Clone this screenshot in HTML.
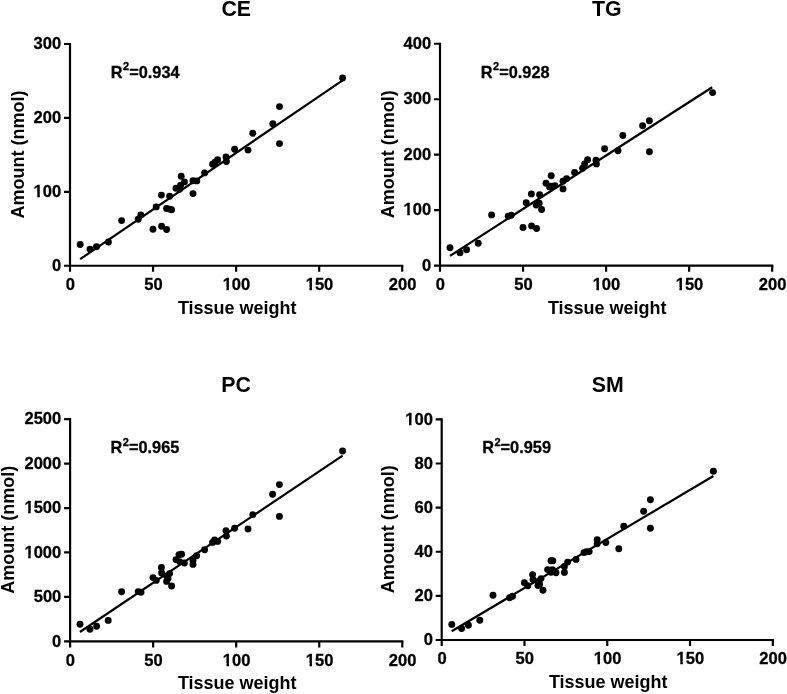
<!DOCTYPE html>
<html lang="en"><head><meta charset="utf-8"><title>Lipid amount vs tissue weight</title>
<style>html,body{margin:0;padding:0;background:#fff}svg{display:block}</style></head>
<body>
<svg width="787" height="694" viewBox="0 0 787 694" font-family='"Liberation Sans", Arial, Helvetica, sans-serif' font-weight="bold" fill="#000">
<style>text{stroke:#000;stroke-width:0.3px;stroke-linejoin:round}text.ax{stroke:none}</style>
<rect width="787" height="694" fill="#fff"/>
<g id="CE">
<path d="M70.00 42.90V265.75H403.30" fill="none" stroke="#000" stroke-width="2.2" stroke-linejoin="miter"/>
<g transform="translate(61.20 271.00) scale(0.975 1)"><text font-size="17" text-anchor="end">0</text></g>
<g transform="translate(61.20 197.08) scale(0.975 1)"><text font-size="17" text-anchor="end">100</text><rect x="-28.49" y="-2.5" width="3.95" height="3.9" fill="#fff"/><rect x="-21.91" y="-2.5" width="3.53" height="3.9" fill="#fff"/></g>
<g transform="translate(61.20 123.17) scale(0.975 1)"><text font-size="17" text-anchor="end">200</text></g>
<g transform="translate(61.20 49.25) scale(0.975 1)"><text font-size="17" text-anchor="end">300</text></g>
<g transform="translate(70.35 289.75) scale(0.975 1)"><text font-size="17" text-anchor="middle">0</text></g>
<g transform="translate(153.40 289.75) scale(0.975 1)"><text font-size="17" text-anchor="middle">50</text></g>
<g transform="translate(236.45 289.75) scale(0.975 1)"><text font-size="17" text-anchor="middle">100</text><rect x="-14.31" y="-2.5" width="3.95" height="3.9" fill="#fff"/><rect x="-7.73" y="-2.5" width="3.53" height="3.9" fill="#fff"/></g>
<g transform="translate(319.50 289.75) scale(0.975 1)"><text font-size="17" text-anchor="middle">150</text><rect x="-14.31" y="-2.5" width="3.95" height="3.9" fill="#fff"/><rect x="-7.73" y="-2.5" width="3.53" height="3.9" fill="#fff"/></g>
<g transform="translate(402.55 289.75) scale(0.975 1)"><text font-size="17" text-anchor="middle">200</text></g>
<path d="M64.00 265.75H70.00M64.00 191.83H70.00M64.00 117.92H70.00M64.00 44.00H70.00M70.00 265.75V271.85M153.05 265.75V271.85M236.10 265.75V271.85M319.15 265.75V271.85M402.20 265.75V271.85" fill="none" stroke="#000" stroke-width="2.2"/>
<text x="236.2" y="16.4" class="ax" font-size="21.3" text-anchor="middle">CE</text>
<text x="237.25" y="313.5" class="ax" font-size="18" text-anchor="middle">Tissue weight</text>
<text transform="translate(23.75 154.47) rotate(-90)" class="ax" font-size="18" text-anchor="middle">Amount (nmol)</text>
<text transform="translate(110.8 77.6) scale(0.962 1)" font-size="17">R<tspan dx="0.4" dy="-7.3" font-size="11.5">2</tspan><tspan dy="7.3">=0.934</tspan></text>
<line x1="80.2" y1="259.10" x2="342.6" y2="80.30" stroke="#000" stroke-width="2.2"/>
<circle cx="80.2" cy="244.50" r="3.45"/>
<circle cx="90" cy="249.10" r="3.45"/>
<circle cx="96.5" cy="246.80" r="3.45"/>
<circle cx="108.4" cy="242.00" r="3.45"/>
<circle cx="121.6" cy="220.60" r="3.45"/>
<circle cx="138.2" cy="219.30" r="3.45"/>
<circle cx="140.8" cy="214.90" r="3.45"/>
<circle cx="153" cy="229.30" r="3.45"/>
<circle cx="156.2" cy="206.90" r="3.45"/>
<circle cx="161.4" cy="195.10" r="3.45"/>
<circle cx="161.6" cy="226.30" r="3.45"/>
<circle cx="166.6" cy="229.50" r="3.45"/>
<circle cx="166.6" cy="208.50" r="3.45"/>
<circle cx="169.6" cy="209.10" r="3.45"/>
<circle cx="171.6" cy="209.70" r="3.45"/>
<circle cx="169.6" cy="196.30" r="3.45"/>
<circle cx="176" cy="188.30" r="3.45"/>
<circle cx="179.6" cy="189.30" r="3.45"/>
<circle cx="181.2" cy="176.30" r="3.45"/>
<circle cx="180.6" cy="185.30" r="3.45"/>
<circle cx="184.4" cy="181.90" r="3.45"/>
<circle cx="193" cy="193.60" r="3.45"/>
<circle cx="193" cy="180.80" r="3.45"/>
<circle cx="196.8" cy="180.90" r="3.45"/>
<circle cx="204.6" cy="172.90" r="3.45"/>
<circle cx="212.6" cy="164.30" r="3.45"/>
<circle cx="215" cy="162.30" r="3.45"/>
<circle cx="217.6" cy="159.70" r="3.45"/>
<circle cx="226" cy="156.90" r="3.45"/>
<circle cx="226.4" cy="161.50" r="3.45"/>
<circle cx="234.6" cy="149.30" r="3.45"/>
<circle cx="248" cy="150.10" r="3.45"/>
<circle cx="252.8" cy="133.30" r="3.45"/>
<circle cx="272.8" cy="123.70" r="3.45"/>
<circle cx="279.5" cy="106.60" r="3.45"/>
<circle cx="279.5" cy="143.60" r="3.45"/>
<circle cx="342.6" cy="77.90" r="3.45"/>
</g>
<g id="TG">
<path d="M440.00 42.65V265.70H773.30" fill="none" stroke="#000" stroke-width="2.2" stroke-linejoin="miter"/>
<g transform="translate(431.20 270.95) scale(0.975 1)"><text font-size="17" text-anchor="end">0</text></g>
<g transform="translate(431.20 215.46) scale(0.975 1)"><text font-size="17" text-anchor="end">100</text><rect x="-28.49" y="-2.5" width="3.95" height="3.9" fill="#fff"/><rect x="-21.91" y="-2.5" width="3.53" height="3.9" fill="#fff"/></g>
<g transform="translate(431.20 159.97) scale(0.975 1)"><text font-size="17" text-anchor="end">200</text></g>
<g transform="translate(431.20 104.49) scale(0.975 1)"><text font-size="17" text-anchor="end">300</text></g>
<g transform="translate(431.20 49.00) scale(0.975 1)"><text font-size="17" text-anchor="end">400</text></g>
<g transform="translate(440.35 289.70) scale(0.975 1)"><text font-size="17" text-anchor="middle">0</text></g>
<g transform="translate(523.40 289.70) scale(0.975 1)"><text font-size="17" text-anchor="middle">50</text></g>
<g transform="translate(606.45 289.70) scale(0.975 1)"><text font-size="17" text-anchor="middle">100</text><rect x="-14.31" y="-2.5" width="3.95" height="3.9" fill="#fff"/><rect x="-7.73" y="-2.5" width="3.53" height="3.9" fill="#fff"/></g>
<g transform="translate(689.50 289.70) scale(0.975 1)"><text font-size="17" text-anchor="middle">150</text><rect x="-14.31" y="-2.5" width="3.95" height="3.9" fill="#fff"/><rect x="-7.73" y="-2.5" width="3.53" height="3.9" fill="#fff"/></g>
<g transform="translate(772.55 289.70) scale(0.975 1)"><text font-size="17" text-anchor="middle">200</text></g>
<path d="M434.00 265.70H440.00M434.00 210.21H440.00M434.00 154.72H440.00M434.00 99.24H440.00M434.00 43.75H440.00M440.00 265.70V271.80M523.05 265.70V271.80M606.10 265.70V271.80M689.15 265.70V271.80M772.20 265.70V271.80" fill="none" stroke="#000" stroke-width="2.2"/>
<text x="606.8" y="16.4" class="ax" font-size="21.3" text-anchor="middle">TG</text>
<text x="607.25" y="313.5" class="ax" font-size="18" text-anchor="middle">Tissue weight</text>
<text transform="translate(393.75 154.32) rotate(-90)" class="ax" font-size="18" text-anchor="middle">Amount (nmol)</text>
<text transform="translate(480.8 77.6) scale(0.962 1)" font-size="17">R<tspan dx="0.4" dy="-7.3" font-size="11.5">2</tspan><tspan dy="7.3">=0.928</tspan></text>
<line x1="450.0" y1="255.90" x2="712.2" y2="87.20" stroke="#000" stroke-width="2.2"/>
<circle cx="450" cy="247.70" r="3.45"/>
<circle cx="460" cy="252.80" r="3.45"/>
<circle cx="466.6" cy="249.80" r="3.45"/>
<circle cx="478.2" cy="243.30" r="3.45"/>
<circle cx="491.6" cy="214.90" r="3.45"/>
<circle cx="508.2" cy="216.30" r="3.45"/>
<circle cx="511.2" cy="215.30" r="3.45"/>
<circle cx="523" cy="227.50" r="3.45"/>
<circle cx="526.2" cy="202.70" r="3.45"/>
<circle cx="531.4" cy="193.90" r="3.45"/>
<circle cx="531.6" cy="225.90" r="3.45"/>
<circle cx="536.6" cy="228.50" r="3.45"/>
<circle cx="536.2" cy="205.10" r="3.45"/>
<circle cx="539.2" cy="203.30" r="3.45"/>
<circle cx="541.6" cy="209.50" r="3.45"/>
<circle cx="539.6" cy="194.70" r="3.45"/>
<circle cx="546" cy="183.30" r="3.45"/>
<circle cx="549.6" cy="186.90" r="3.45"/>
<circle cx="551.2" cy="175.70" r="3.45"/>
<circle cx="550.6" cy="186.30" r="3.45"/>
<circle cx="554.9" cy="185.60" r="3.45"/>
<circle cx="563" cy="188.90" r="3.45"/>
<circle cx="563" cy="181.30" r="3.45"/>
<circle cx="566.6" cy="178.60" r="3.45"/>
<circle cx="574.6" cy="172.50" r="3.45"/>
<circle cx="582.6" cy="168.30" r="3.45"/>
<circle cx="584.6" cy="163.90" r="3.45"/>
<circle cx="587.6" cy="159.70" r="3.45"/>
<circle cx="596" cy="160.30" r="3.45"/>
<circle cx="596.4" cy="163.90" r="3.45"/>
<circle cx="604.6" cy="148.70" r="3.45"/>
<circle cx="618" cy="150.70" r="3.45"/>
<circle cx="622.8" cy="135.50" r="3.45"/>
<circle cx="642.6" cy="125.70" r="3.45"/>
<circle cx="649.4" cy="120.70" r="3.45"/>
<circle cx="649.4" cy="151.70" r="3.45"/>
<circle cx="712.6" cy="92.60" r="3.45"/>
</g>
<g id="PC">
<path d="M70.10 418.10V641.30H403.40" fill="none" stroke="#000" stroke-width="2.2" stroke-linejoin="miter"/>
<g transform="translate(61.30 646.55) scale(0.975 1)"><text font-size="17" text-anchor="end">0</text></g>
<g transform="translate(61.30 602.13) scale(0.975 1)"><text font-size="17" text-anchor="end">500</text></g>
<g transform="translate(61.30 557.71) scale(0.975 1)"><text font-size="17" text-anchor="end">1000</text><rect x="-37.95" y="-2.5" width="3.95" height="3.9" fill="#fff"/><rect x="-31.37" y="-2.5" width="3.53" height="3.9" fill="#fff"/></g>
<g transform="translate(61.30 513.29) scale(0.975 1)"><text font-size="17" text-anchor="end">1500</text><rect x="-37.95" y="-2.5" width="3.95" height="3.9" fill="#fff"/><rect x="-31.37" y="-2.5" width="3.53" height="3.9" fill="#fff"/></g>
<g transform="translate(61.30 468.87) scale(0.975 1)"><text font-size="17" text-anchor="end">2000</text></g>
<g transform="translate(61.30 424.45) scale(0.975 1)"><text font-size="17" text-anchor="end">2500</text></g>
<g transform="translate(70.45 665.80) scale(0.975 1)"><text font-size="17" text-anchor="middle">0</text></g>
<g transform="translate(153.50 665.80) scale(0.975 1)"><text font-size="17" text-anchor="middle">50</text></g>
<g transform="translate(236.55 665.80) scale(0.975 1)"><text font-size="17" text-anchor="middle">100</text><rect x="-14.31" y="-2.5" width="3.95" height="3.9" fill="#fff"/><rect x="-7.73" y="-2.5" width="3.53" height="3.9" fill="#fff"/></g>
<g transform="translate(319.60 665.80) scale(0.975 1)"><text font-size="17" text-anchor="middle">150</text><rect x="-14.31" y="-2.5" width="3.95" height="3.9" fill="#fff"/><rect x="-7.73" y="-2.5" width="3.53" height="3.9" fill="#fff"/></g>
<g transform="translate(402.65 665.80) scale(0.975 1)"><text font-size="17" text-anchor="middle">200</text></g>
<path d="M64.10 641.30H70.10M64.10 596.88H70.10M64.10 552.46H70.10M64.10 508.04H70.10M64.10 463.62H70.10M64.10 419.20H70.10M70.10 641.30V647.40M153.15 641.30V647.40M236.20 641.30V647.40M319.25 641.30V647.40M402.30 641.30V647.40" fill="none" stroke="#000" stroke-width="2.2"/>
<text x="236.05" y="391.6" class="ax" font-size="21.3" text-anchor="middle">PC</text>
<text x="237.25" y="689.4" class="ax" font-size="18" text-anchor="middle">Tissue weight</text>
<text transform="translate(13.65 529.85) rotate(-90)" class="ax" font-size="18" text-anchor="middle">Amount (nmol)</text>
<text transform="translate(110.6 453.15) scale(0.962 1)" font-size="17">R<tspan dx="0.4" dy="-7.3" font-size="11.5">2</tspan><tspan dy="7.3">=0.965</tspan></text>
<line x1="79.9" y1="632.00" x2="342.6" y2="455.60" stroke="#000" stroke-width="2.2"/>
<circle cx="80" cy="624.20" r="3.45"/>
<circle cx="90" cy="629.30" r="3.45"/>
<circle cx="96.6" cy="626.20" r="3.45"/>
<circle cx="108.2" cy="620.40" r="3.45"/>
<circle cx="121.6" cy="591.80" r="3.45"/>
<circle cx="138.2" cy="591.60" r="3.45"/>
<circle cx="141" cy="592.20" r="3.45"/>
<circle cx="153" cy="577.60" r="3.45"/>
<circle cx="156.2" cy="580.40" r="3.45"/>
<circle cx="161.4" cy="567.40" r="3.45"/>
<circle cx="161.6" cy="573.00" r="3.45"/>
<circle cx="166.6" cy="581.40" r="3.45"/>
<circle cx="166.6" cy="576.00" r="3.45"/>
<circle cx="169.6" cy="573.60" r="3.45"/>
<circle cx="171.6" cy="586.00" r="3.45"/>
<circle cx="168" cy="578.60" r="3.45"/>
<circle cx="176" cy="559.60" r="3.45"/>
<circle cx="179.6" cy="561.60" r="3.45"/>
<circle cx="181.6" cy="554.30" r="3.45"/>
<circle cx="179.0" cy="554.60" r="3.45"/>
<circle cx="184.4" cy="563.00" r="3.45"/>
<circle cx="193" cy="564.40" r="3.45"/>
<circle cx="193" cy="560.60" r="3.45"/>
<circle cx="196.6" cy="555.80" r="3.45"/>
<circle cx="204.6" cy="549.70" r="3.45"/>
<circle cx="212.6" cy="542.40" r="3.45"/>
<circle cx="214.6" cy="540.00" r="3.45"/>
<circle cx="217.6" cy="541.40" r="3.45"/>
<circle cx="226" cy="530.60" r="3.45"/>
<circle cx="226.4" cy="536.00" r="3.45"/>
<circle cx="234.6" cy="528.20" r="3.45"/>
<circle cx="248" cy="529.00" r="3.45"/>
<circle cx="252.8" cy="514.60" r="3.45"/>
<circle cx="272.6" cy="494.20" r="3.45"/>
<circle cx="279.4" cy="484.60" r="3.45"/>
<circle cx="279.4" cy="516.40" r="3.45"/>
<circle cx="342.6" cy="451.00" r="3.45"/>
</g>
<g id="SM">
<path d="M441.70 418.30V640.00H773.90" fill="none" stroke="#000" stroke-width="2.2" stroke-linejoin="miter"/>
<g transform="translate(432.90 645.25) scale(0.975 1)"><text font-size="17" text-anchor="end">0</text></g>
<g transform="translate(432.90 601.13) scale(0.975 1)"><text font-size="17" text-anchor="end">20</text></g>
<g transform="translate(432.90 557.01) scale(0.975 1)"><text font-size="17" text-anchor="end">40</text></g>
<g transform="translate(432.90 512.89) scale(0.975 1)"><text font-size="17" text-anchor="end">60</text></g>
<g transform="translate(432.90 468.77) scale(0.975 1)"><text font-size="17" text-anchor="end">80</text></g>
<g transform="translate(432.90 424.65) scale(0.975 1)"><text font-size="17" text-anchor="end">100</text><rect x="-28.49" y="-2.5" width="3.95" height="3.9" fill="#fff"/><rect x="-21.91" y="-2.5" width="3.53" height="3.9" fill="#fff"/></g>
<g transform="translate(442.05 664.00) scale(0.975 1)"><text font-size="17" text-anchor="middle">0</text></g>
<g transform="translate(524.83 664.00) scale(0.975 1)"><text font-size="17" text-anchor="middle">50</text></g>
<g transform="translate(607.60 664.00) scale(0.975 1)"><text font-size="17" text-anchor="middle">100</text><rect x="-14.31" y="-2.5" width="3.95" height="3.9" fill="#fff"/><rect x="-7.73" y="-2.5" width="3.53" height="3.9" fill="#fff"/></g>
<g transform="translate(690.38 664.00) scale(0.975 1)"><text font-size="17" text-anchor="middle">150</text><rect x="-14.31" y="-2.5" width="3.95" height="3.9" fill="#fff"/><rect x="-7.73" y="-2.5" width="3.53" height="3.9" fill="#fff"/></g>
<g transform="translate(773.15 664.00) scale(0.975 1)"><text font-size="17" text-anchor="middle">200</text></g>
<path d="M435.70 640.00H441.70M435.70 595.88H441.70M435.70 551.76H441.70M435.70 507.64H441.70M435.70 463.52H441.70M435.70 419.40H441.70M441.70 640.00V646.10M524.48 640.00V646.10M607.25 640.00V646.10M690.02 640.00V646.10M772.80 640.00V646.10" fill="none" stroke="#000" stroke-width="2.2"/>
<text x="607.65" y="391.6" class="ax" font-size="21.3" text-anchor="middle">SM</text>
<text x="608.25" y="687.9" class="ax" font-size="18" text-anchor="middle">Tissue weight</text>
<text transform="translate(393.75 529.30) rotate(-90)" class="ax" font-size="18" text-anchor="middle">Amount (nmol)</text>
<text transform="translate(482.2 452.95) scale(0.962 1)" font-size="17">R<tspan dx="0.4" dy="-7.3" font-size="11.5">2</tspan><tspan dy="7.3">=0.959</tspan></text>
<line x1="451.7" y1="631.20" x2="713.4" y2="476.00" stroke="#000" stroke-width="2.2"/>
<circle cx="451.8" cy="624.40" r="3.45"/>
<circle cx="461.6" cy="628.50" r="3.45"/>
<circle cx="468.4" cy="625.20" r="3.45"/>
<circle cx="479.8" cy="620.20" r="3.45"/>
<circle cx="493" cy="595.20" r="3.45"/>
<circle cx="509.6" cy="597.80" r="3.45"/>
<circle cx="512.6" cy="596.20" r="3.45"/>
<circle cx="524.4" cy="582.80" r="3.45"/>
<circle cx="527.8" cy="585.80" r="3.45"/>
<circle cx="532.6" cy="574.60" r="3.45"/>
<circle cx="533" cy="579.60" r="3.45"/>
<circle cx="538" cy="585.60" r="3.45"/>
<circle cx="538" cy="581.80" r="3.45"/>
<circle cx="541" cy="578.60" r="3.45"/>
<circle cx="543" cy="590.20" r="3.45"/>
<circle cx="539.6" cy="584.20" r="3.45"/>
<circle cx="547.6" cy="569.60" r="3.45"/>
<circle cx="551" cy="572.20" r="3.45"/>
<circle cx="551.0" cy="560.80" r="3.45"/>
<circle cx="552.8" cy="560.80" r="3.45"/>
<circle cx="552.4" cy="569.60" r="3.45"/>
<circle cx="556" cy="572.80" r="3.45"/>
<circle cx="564.4" cy="572.40" r="3.45"/>
<circle cx="564.4" cy="566.50" r="3.45"/>
<circle cx="567.6" cy="562.10" r="3.45"/>
<circle cx="576" cy="559.40" r="3.45"/>
<circle cx="584" cy="552.60" r="3.45"/>
<circle cx="586.4" cy="551.80" r="3.45"/>
<circle cx="589.2" cy="551.60" r="3.45"/>
<circle cx="597.2" cy="539.60" r="3.45"/>
<circle cx="597.2" cy="543.80" r="3.45"/>
<circle cx="605.8" cy="542.60" r="3.45"/>
<circle cx="618.8" cy="548.80" r="3.45"/>
<circle cx="623.8" cy="526.20" r="3.45"/>
<circle cx="643.6" cy="511.20" r="3.45"/>
<circle cx="650.4" cy="499.80" r="3.45"/>
<circle cx="650.4" cy="528.20" r="3.45"/>
<circle cx="713.4" cy="471.20" r="3.45"/>
</g>
</svg>
</body></html>
